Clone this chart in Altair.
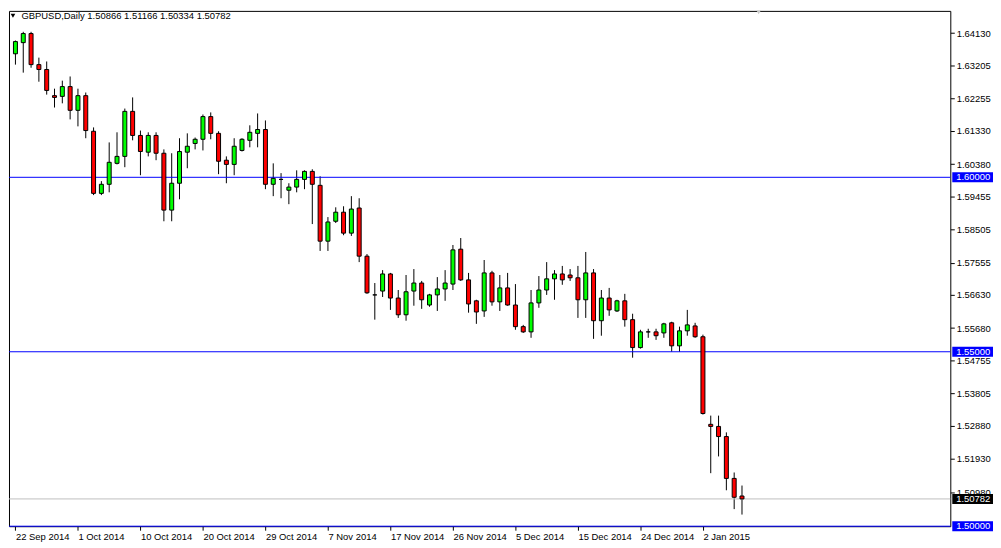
import altair as alt
import pandas as pd

# ---- data (GBPUSD daily) ----
opens = [1.6354, 1.6386, 1.6412, 1.6323, 1.6309, 1.6234, 1.6232, 1.6260, 1.6192, 1.6234,
         1.6132, 1.5954, 1.5980, 1.6040, 1.6060, 1.6189, 1.6120, 1.6072, 1.6120, 1.6069,
         1.5906, 1.5983, 1.6072, 1.6097, 1.6109, 1.6174, 1.6126, 1.6049, 1.6037, 1.6077,
         1.6106, 1.6126, 1.6137, 1.5980, 1.5994, 1.5963, 1.5972, 1.5994, 1.6017, 1.5977,
         1.5817, 1.5874, 1.5900, 1.5840, 1.5912, 1.5774, 1.5663, 1.5674, 1.5723, 1.5654,
         1.5606, 1.5674, 1.5697, 1.5634, 1.5663, 1.5680, 1.5694, 1.5794, 1.5706, 1.5646,
         1.5617, 1.5726, 1.5643, 1.5683, 1.5634, 1.5572, 1.5557, 1.5640, 1.5677, 1.5709,
         1.5723, 1.5720, 1.5712, 1.5649, 1.5726, 1.5589, 1.5654, 1.5617, 1.5646, 1.5592,
         1.5512, 1.5557, 1.5557, 1.5554, 1.5583, 1.5517, 1.5560, 1.5574, 1.5543, 1.5292,
         1.5286, 1.5257, 1.5137, 1.50866]
highs = [1.6392, 1.6417, 1.6417, 1.6343, 1.6332, 1.6254, 1.6277, 1.6289, 1.6254, 1.6243,
         1.6143, 1.5989, 1.6100, 1.6129, 1.6197, 1.6229, 1.6134, 1.6129, 1.6129, 1.6080,
         1.6069, 1.6112, 1.6126, 1.6114, 1.6180, 1.6186, 1.6132, 1.6060, 1.6112, 1.6112,
         1.6149, 1.6183, 1.6163, 1.6040, 1.6012, 1.5983, 1.6020, 1.6020, 1.6023, 1.6003,
         1.5886, 1.5914, 1.5917, 1.5946, 1.5940, 1.5780, 1.5697, 1.5734, 1.5726, 1.5677,
         1.5720, 1.5737, 1.5703, 1.5666, 1.5714, 1.5734, 1.5806, 1.5826, 1.5726, 1.5649,
         1.5763, 1.5732, 1.5720, 1.5726, 1.5694, 1.5577, 1.5677, 1.5717, 1.5757, 1.5734,
         1.5746, 1.5737, 1.5746, 1.5786, 1.5737, 1.5677, 1.5683, 1.5649, 1.5666, 1.5609,
         1.5563, 1.5566, 1.5566, 1.5583, 1.5586, 1.5572, 1.5620, 1.5583, 1.5549, 1.5317,
         1.5317, 1.5269, 1.5154, 1.51166]
lows = [1.6323, 1.6300, 1.6314, 1.6274, 1.6237, 1.6200, 1.6212, 1.6166, 1.6146, 1.6112,
        1.5949, 1.5949, 1.5957, 1.6037, 1.6029, 1.6106, 1.6006, 1.6060, 1.6049, 1.5874,
        1.5874, 1.5937, 1.6026, 1.6080, 1.6077, 1.6109, 1.6009, 1.5983, 1.6006, 1.6074,
        1.6086, 1.6086, 1.5966, 1.5946, 1.5940, 1.5923, 1.5957, 1.5966, 1.5866, 1.5789,
        1.5789, 1.5869, 1.5834, 1.5832, 1.5757, 1.5666, 1.5592, 1.5657, 1.5620, 1.5597,
        1.5589, 1.5632, 1.5623, 1.5629, 1.5617, 1.5646, 1.5677, 1.5703, 1.5612, 1.5580,
        1.5600, 1.5632, 1.5617, 1.5632, 1.5563, 1.5554, 1.5540, 1.5626, 1.5663, 1.5649,
        1.5692, 1.5703, 1.5597, 1.5597, 1.5537, 1.5546, 1.5603, 1.5614, 1.5572, 1.5483,
        1.5509, 1.5540, 1.5534, 1.5540, 1.5500, 1.5500, 1.5546, 1.5540, 1.5320, 1.5152,
        1.5200, 1.5103, 1.5049, 1.50334]
closes = [1.6389, 1.6412, 1.6323, 1.6309, 1.6249, 1.6229, 1.6260, 1.6192, 1.6234, 1.6134,
          1.5954, 1.5980, 1.6043, 1.6060, 1.6189, 1.6120, 1.6074, 1.6120, 1.6069, 1.5906,
          1.5983, 1.6074, 1.6089, 1.6109, 1.6174, 1.6126, 1.6046, 1.6037, 1.6089, 1.6109,
          1.6129, 1.6137, 1.5980, 1.5997, 1.5994, 1.5972, 1.5994, 1.6017, 1.5980, 1.5817,
          1.5872, 1.5900, 1.5840, 1.5909, 1.5774, 1.5669, 1.5663, 1.5723, 1.5654, 1.5606,
          1.5672, 1.5697, 1.5649, 1.5663, 1.5680, 1.5697, 1.5792, 1.5706, 1.5637, 1.5614,
          1.5726, 1.5643, 1.5683, 1.5634, 1.5572, 1.5557, 1.5640, 1.5677, 1.5709, 1.5723,
          1.5706, 1.5712, 1.5649, 1.5726, 1.5589, 1.5654, 1.5620, 1.5646, 1.5592, 1.5512,
          1.5557, 1.5557, 1.5546, 1.5580, 1.5517, 1.5560, 1.5577, 1.5543, 1.5323, 1.5286,
          1.5257, 1.5137, 1.5083, 1.50782]

date_labels = ["22 Sep 2014", "1 Oct 2014", "10 Oct 2014", "20 Oct 2014", "29 Oct 2014",
               "7 Nov 2014", "17 Nov 2014", "26 Nov 2014", "5 Dec 2014", "15 Dec 2014",
               "24 Dec 2014", "2 Jan 2015"]
date_ticks = [0, 8, 16, 24, 32, 40, 48, 56, 64, 72, 80, 88]

price_ticks = [1.64130, 1.63205, 1.62255, 1.61330, 1.60380, 1.59455, 1.58505, 1.57555,
               1.56630, 1.55680, 1.54755, 1.53805, 1.52880, 1.51930, 1.50980]

levels = [1.60000, 1.55000, 1.50000]
bid = 1.50782
header = "GBPUSD,Daily  1.50866 1.51166 1.50334 1.50782"

FONT = "Liberation Sans"
FS = 9.5

# ---- tables ----
def direction(o, c):
    if c > o:
        return "up"
    if c < o:
        return "down"
    return "flat"

df = pd.DataFrame({
    "i": list(range(len(opens))),
    "open": opens, "high": highs, "low": lows, "close": closes,
})
df["dir"] = [direction(o, c) for o, c in zip(opens, closes)]

lv = pd.DataFrame({"v": levels})
bd = pd.DataFrame({"v": [bid]})
one = pd.DataFrame({"a": [0]})

xscale = alt.Scale(domain=[-0.19, 119.03], nice=False, zero=False)
yscale = alt.Scale(domain=[1.5000, 1.6477], nice=False, zero=False)

label_expr = "[" + ",".join("'%s'" % d for d in date_labels) + "][round(datum.value/8)]"

xaxis = alt.Axis(values=date_ticks, labelExpr=label_expr, labelAlign="left",
                 labelBaseline="top", labelPadding=1, tickSize=4, title=None,
                 labelOverlap=False, labelFlush=False, labelBound=False,
                 domain=False, grid=False)
yaxis = alt.Axis(orient="right", values=price_ticks, format=".5f", tickSize=4,
                 labelPadding=2, labelBaseline="middle", title=None,
                 labelOverlap=False, labelBound=False, labelFlush=False,
                 domain=False, grid=False)


def Y(field):
    return alt.Y(field, scale=yscale, axis=yaxis)


base = alt.Chart(df)

wicks = base.mark_rule(color="black", strokeWidth=1).encode(
    x=alt.X("i:Q", scale=xscale, axis=xaxis),
    y=Y("low:Q"),
    y2="high:Q",
)

bodies = base.mark_bar(size=4, stroke="black", strokeWidth=1).encode(
    x=alt.X("i:Q", scale=xscale, axis=xaxis),
    y=Y("open:Q"),
    y2="close:Q",
    color=alt.Color("dir:N", scale=alt.Scale(domain=["up", "down", "flat"],
                                             range=["#00FF00", "#FF0000", "#000000"]),
                    legend=None),
)

level_lines = alt.Chart(lv).mark_rule(color="#0000FF", strokeWidth=1).encode(y=Y("v:Q"))
bid_line = alt.Chart(bd).mark_rule(color="#C0C0C0", strokeWidth=1).encode(y=Y("v:Q"))

level_box = alt.Chart(lv).mark_tick(orient="horizontal", size=41, thickness=10,
                                    color="#0000FF", opacity=1).encode(
    x=alt.value(970.5), y=Y("v:Q"))
level_txt = alt.Chart(lv).mark_text(align="left", baseline="middle", color="white",
                                    font=FONT, fontSize=FS).encode(
    x=alt.value(954), y=Y("v:Q"), text=alt.Text("v:Q", format=".5f"))
bid_box = alt.Chart(bd).mark_tick(orient="horizontal", size=41, thickness=10,
                                  color="#000000", opacity=1).encode(
    x=alt.value(970.5), y=Y("v:Q"))
bid_txt = alt.Chart(bd).mark_text(align="left", baseline="middle", color="white",
                                  font=FONT, fontSize=FS).encode(
    x=alt.value(954), y=Y("v:Q"), text=alt.Text("v:Q", format=".5f"))

tri = alt.Chart(one).mark_point(shape="triangle-down", filled=True, color="black",
                                size=22, opacity=1).encode(x=alt.value(4), y=alt.value(5))
head = alt.Chart(one).mark_text(text=header, align="left", baseline="middle",
                                font=FONT, fontSize=FS, color="black").encode(
    x=alt.value(12.5), y=alt.value(5.5))
shift_mark = alt.Chart(one).mark_point(shape="triangle-down", filled=True,
                                       color="#C8C8C8", size=18, opacity=1).encode(
    x=alt.value(755), y=alt.value(1.5))

chart = alt.layer(
    wicks, level_lines, bid_line, bodies, level_box, level_txt, bid_box, bid_txt,
    tri, head, shift_mark
).properties(
    width=948, height=519, padding={"left": 0, "top": 0, "right": 0, "bottom": 0},
    background="white"
).configure_view(
    stroke="black", strokeWidth=1
).configure_axis(
    labelFont=FONT, labelFontSize=FS, labelColor="black", tickColor="black",
    tickWidth=1, labelOverlap=False
)

chart.save("out.html", embed_options={"renderer": "svg", "actions": False})
